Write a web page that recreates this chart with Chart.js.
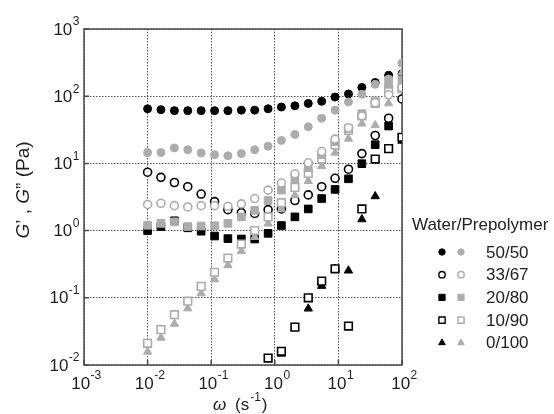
<!DOCTYPE html>
<html>
<head>
<meta charset="utf-8">
<script src="https://cdn.jsdelivr.net/npm/chart.js@4/dist/chart.umd.min.js"></script>
<style>
  html, body { margin: 0; padding: 0; background: #fff; }
  #wrap { width: 554px; height: 414px; }
</style>
</head>
<body>
<div id="wrap"><canvas id="rheoChart" width="554" height="414"></canvas></div>
<script>
'use strict';

// angular frequency (s^-1)
var omega = [0.01, 0.0162, 0.0264, 0.0428, 0.0695, 0.113, 0.183, 0.298, 0.483, 0.785,
             1.27, 2.07, 3.36, 5.46, 8.86, 14.4, 23.4, 37.9, 61.6, 100];

// G' (black) and G'' (grey), Pa
var gp5050  = [65, 63, 61, 61, 61, 61, 61, 62, 62, 65, 69, 72, 78, 84, 97, 108, 135, 160, 205, 215];
var gpp5050 = [14.5, 14.5, 17, 16, 14.3, 13.5, 13, 14, 16, 18, 22, 27, 35, 47, 62, 82, 107, 150, 180, 310];
var gp3367  = [7.4, 6.2, 5.2, 4.5, 3.5, 2.7, 2.05, 1.85, 1.8, 2.05, 2.1, 2.8, 3.4, 4.5, 6.0, 8.2, 14, 26, 47, 91];
var gpp3367 = [2.45, 2.55, 2.35, 2.25, 2.35, 2.35, 2.3, 2.5, 3.0, 4.0, 5.1, 7.0, 10.2, 15, 23, 34, 51, 80, 105, 135];
var gp2080  = [1.0, 1.15, 1.4, 1.1, 0.98, 0.83, 0.76, 0.75, 0.75, 0.91, 1.19, 1.6, 2.1, 3.0, 4.1, 5.9, 9.9, 19, 36, null];
var gpp2080 = [1.2, 1.28, 1.35, 1.15, 1.17, 1.18, 1.28, 1.6, 2.0, 2.8, 4.0, 5.8, 8.6, 13.5, 21, 33, 55, 85, 150, 175];
var gp1090  = [null, null, null, null, null, null, null, null, null, 0.0127,
               0.016, 0.0366, 0.1, 0.177, 0.27, 0.038, 2.1, 11.6, 16.6, 24.5];
var gpp1090 = [0.021, 0.0336, 0.056, 0.089, 0.148, 0.24, 0.39, 0.63, 1.0, 1.6, 2.6, 4.4, 7.1, 11.6, 18.8, 31, 51, 78, 127, 130];
var gp0100  = [null, null, null, null, null, null, null, null, null, null,
               0.0147, 0.036, 0.069, 0.15, 0.27, 0.254, 1.47, 3.24, null, 21.7];
var gpp0100 = [0.0157, 0.0254, 0.041, 0.0695, 0.116, 0.188, 0.305, 0.495, 0.80, 1.27, 2.07, 3.36, 5.46, 9.1, 14.4, 23.3, 39, 37, 78, 225];

var legendLabels = ['50/50', '33/67', '20/80', '10/90', '0/100'];
var xDecades = [-3, -2, -1, 0, 1, 2];
var yDecades = [-2, -1, 0, 1, 2, 3];

var BLACK = '#000000';
var GREY = '#acacac';
var FONT = '"Liberation Sans", Arial, sans-serif';

//Marker look per sample
var markers = [
    { style: 'circle',   radius: 4,   open: false, lr: 3.2 },
    { style: 'circle',   radius: 4,   open: true,  lr: 3.2 },
    { style: 'rect',     radius: 5.4, open: false, lr: 4.4 },
    { style: 'rect',     radius: 5.4, open: true,  lr: 4.4 },
    { style: 'triangle', radius: 4.8, open: false, lr: 3.8 }
];

function toPoints(values) {
    var pts = [];
    values.forEach(function(v, i) {
        if (v !== null) pts.push({ x: omega[i], y: v });
    });
    return pts;
}

function makeSet(label, values, color, m) {
    return {
        label: label,
        data: toPoints(values),
        pointStyle: m.style,
        pointRadius: m.radius,
        pointHoverRadius: m.radius,
        pointBackgroundColor: m.open ? '#ffffff' : color,
        pointBorderColor: color,
        pointBorderWidth: m.open ? 1.6 : 1,
        showLine: false
    };
}

// grey sets first so they are drawn on top of the black ones
var greySeries = [gpp5050, gpp3367, gpp2080, gpp1090, gpp0100];
var blackSeries = [gp5050, gp3367, gp2080, gp1090, gp0100];
var datasets = [];
greySeries.forEach(function(s, i) {
    datasets.push(makeSet(legendLabels[i] + " G''", s, GREY, markers[i]));
});
blackSeries.forEach(function(s, i) {
    datasets.push(makeSet(legendLabels[i] + " G'", s, BLACK, markers[i]));
});

//Frame box drawn before the points
var framePlugin = {
    id: 'frame',
    beforeDatasetsDraw: function(chart) {
        var ctx = chart.ctx, a = chart.chartArea;
        var xs = chart.scales.x, ys = chart.scales.y;
        ctx.save();
        ctx.strokeStyle = '#4a4a4a';
        ctx.lineWidth = 1.5;
        ctx.strokeRect(a.left, a.top, a.right - a.left, a.bottom - a.top);
        // inner tick marks
        ctx.beginPath();
        xDecades.forEach(function(e) {
            var px = xs.getPixelForValue(Math.pow(10, e));
            ctx.moveTo(px, a.bottom); ctx.lineTo(px, a.bottom - 5);
        });
        yDecades.forEach(function(e) {
            var py = ys.getPixelForValue(Math.pow(10, e));
            ctx.moveTo(a.left, py); ctx.lineTo(a.left + 5, py);
        });
        ctx.stroke();
        ctx.restore();
    }
};

//Draw "10^n" tick labels, titles and the legend
var decorPlugin = {
    id: 'decor',
    afterDraw: function(chart) {
        var ctx = chart.ctx;
        var xs = chart.scales.x, ys = chart.scales.y;
        var area = chart.chartArea;
        ctx.save();
        ctx.fillStyle = '#1e1e1e';
        ctx.textBaseline = 'middle';

        function powerLabel(e, x, y, align) {
            ctx.font = '17px ' + FONT;
            var bw = ctx.measureText('10').width;
            ctx.font = '12px ' + FONT;
            var ew = ctx.measureText(String(e)).width;
            var start = align === 'right' ? x - bw - ew : x - (bw + ew) / 2;
            ctx.textAlign = 'left';
            ctx.font = '17px ' + FONT;
            ctx.fillText('10', start, y);
            ctx.font = '12px ' + FONT;
            ctx.fillText(String(e), start + bw + 0.5, y - 8);
        }

        xDecades.forEach(function(e) {
            powerLabel(e, xs.getPixelForValue(Math.pow(10, e)) + 2, area.bottom + 19, 'center');
        });
        yDecades.forEach(function(e) {
            powerLabel(e, area.left - 5, ys.getPixelForValue(Math.pow(10, e)) + 1, 'right');
        });

        // x title: omega (s^-1)
        ctx.textAlign = 'left';
        ctx.font = 'italic 17px ' + FONT;
        var tx = 213, ty = 405;
        ctx.fillText('\u03c9', tx, ty);
        ctx.font = '17px ' + FONT;
        ctx.fillText('(s', tx + 22, ty);
        var sw = ctx.measureText('(s').width;
        ctx.font = '12px ' + FONT;
        ctx.fillText('-1', tx + 22 + sw + 1, ty - 7);
        var ew = ctx.measureText('-1').width;
        ctx.font = '17px ' + FONT;
        ctx.fillText(')', tx + 22 + sw + ew + 2, ty);

        // y title, rotated
        ctx.save();
        ctx.translate(24, 190);
        ctx.rotate(-Math.PI / 2);
        var parts = [
            { t: 'G', f: 'italic 19px ' }, { t: '\u2019 , ', f: '19px ' },
            { t: 'G', f: 'italic 19px ' }, { t: '\u201d (Pa)', f: '19px ' }
        ];
        var total = 0;
        parts.forEach(function(p) { ctx.font = p.f + FONT; total += ctx.measureText(p.t).width; });
        var cx = -total / 2;
        parts.forEach(function(p) {
            ctx.font = p.f + FONT;
            ctx.fillText(p.t, cx, 0);
            cx += ctx.measureText(p.t).width;
        });
        ctx.restore();

        // legend
        ctx.font = '17px ' + FONT;
        ctx.fillStyle = '#222';
        ctx.fillText('Water/Prepolymer', 412, 225);
        legendLabels.forEach(function(lbl, i) {
            var y = 252 + i * 22.7;
            var m = markers[i];
            [BLACK, GREY].forEach(function(c, k) {
                ctx.fillStyle = m.open ? '#ffffff' : c;
                ctx.strokeStyle = c;
                ctx.lineWidth = m.open ? 1.4 : 1;
                Chart.helpers.drawPoint(ctx, { pointStyle: m.style, radius: m.lr, borderWidth: ctx.lineWidth, rotation: 0 }, 442 + k * 19, y);
            });
            ctx.fillStyle = '#222';
            ctx.font = '17px ' + FONT;
            ctx.fillText(lbl, 486, y + 1);
        });

        ctx.restore();
    }
};

function decadeTicks(scale) {
    var lo = Math.round(Math.log10(scale.min)), hi = Math.round(Math.log10(scale.max));
    var t = [];
    for (var e = lo; e <= hi; e++) t.push({ value: Math.pow(10, e) });
    scale.ticks = t;
}

var ctx = document.getElementById('rheoChart');
var rheoChart = new Chart(ctx, {
    type: 'scatter',
    data: { datasets: datasets },
    options: {
        responsive: false,
        animation: false,
        events: [],
        layout: { padding: { left: 84, right: 152, top: 29, bottom: 49 } },
        plugins: {
            legend: { display: false },
            tooltip: { enabled: false }
        },
        scales: {
            x: {
                type: 'logarithmic',
                min: 0.001,
                max: 100,
                afterBuildTicks: decadeTicks,
                ticks: { display: false },
                grid: { color: '#555', lineWidth: 1, drawTicks: false },
                border: { display: false, dash: [1.5, 1.5] }
            },
            y: {
                type: 'logarithmic',
                min: 0.01,
                max: 1000,
                afterBuildTicks: decadeTicks,
                ticks: { display: false },
                grid: { color: '#555', lineWidth: 1, drawTicks: false },
                border: { display: false, dash: [1.5, 1.5] }
            }
        }
    },
    plugins: [framePlugin, decorPlugin]
});
</script>
</body>
</html>
